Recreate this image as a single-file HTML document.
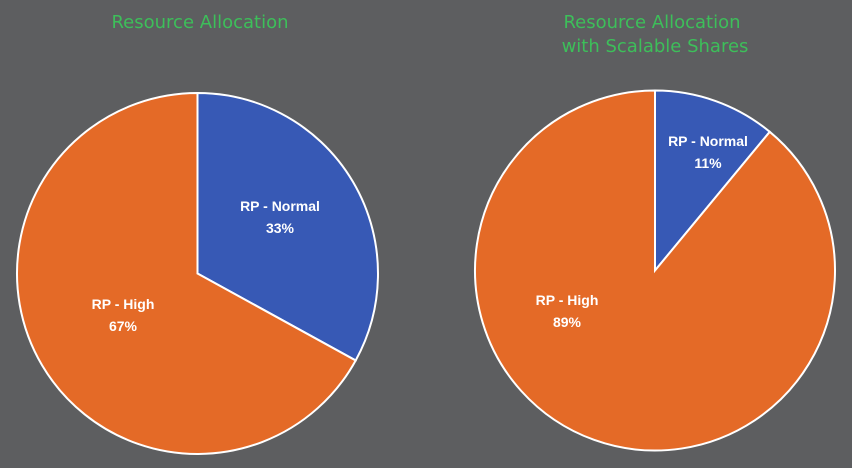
<!DOCTYPE html>
<html><head><meta charset="utf-8"><style>
html,body{margin:0;padding:0;background:#5d5e60;}
svg{display:block}
.t{font-family:"DejaVu Sans",sans-serif;font-size:18px;fill:#3dbf5a;text-anchor:middle}
.l{font-family:"Liberation Sans",sans-serif;font-weight:bold;font-size:14px;fill:#fff;text-anchor:middle}
</style></head><body>
<svg id="c" width="852" height="468" viewBox="0 0 852 468">
<rect width="852" height="468" fill="#5d5e60"/>
<text class="t" x="200" y="28">Resource Allocation</text>
<text class="t" x="652" y="28">Resource Allocation</text>
<text class="t" x="655" y="52">with Scalable Shares</text>
</svg>
<script>
const categories = ["RP - Normal", "RP - High"];
const leftValues = [33, 67];
const rightValues = [11, 89];
const colors = ["#3759b5", "#e46a27"];
const NS = "http://www.w3.org/2000/svg";
const svg = document.getElementById('c');
function pie(cx, cy, r, values, prefix, labelPos) {
  const total = values.reduce((a, b) => a + b, 0);
  let a0 = -Math.PI / 2;
  values.forEach((v, i) => {
    const a1 = a0 + v / total * 2 * Math.PI;
    const large = (a1 - a0) > Math.PI ? 1 : 0;
    const p = document.createElementNS(NS, 'path');
    p.setAttribute('d', `M${cx},${cy}L${cx + r * Math.cos(a0)},${cy + r * Math.sin(a0)}A${r},${r} 0 ${large} 1 ${cx + r * Math.cos(a1)},${cy + r * Math.sin(a1)}Z`);
    p.setAttribute('fill', colors[i]);
    p.setAttribute('stroke', '#fff');
    p.setAttribute('stroke-width', '2');
    
    
    svg.appendChild(p);
    a0 = a1;
  });
  values.forEach((v, i) => {
    const [lx, ly] = labelPos[i];
    const t = document.createElementNS(NS, 'text');
    t.setAttribute('class', 'l');
    t.setAttribute('x', lx);
    t.setAttribute('y', ly);
    
    
    const s1 = document.createElementNS(NS, 'tspan');
    s1.setAttribute('x', lx); s1.textContent = categories[i];
    const s2 = document.createElementNS(NS, 'tspan');
    s2.setAttribute('x', lx); s2.setAttribute('dy', '22'); s2.textContent = v + '%';
    t.appendChild(s1); t.appendChild(s2);
    svg.appendChild(t);
  });
}
pie(197.5, 273.5, 180.5, leftValues, 'left', [[280, 211], [123, 309]]);
pie(655, 270.5, 180, rightValues, 'right', [[708, 146], [567, 305]]);
</script>
</body></html>
